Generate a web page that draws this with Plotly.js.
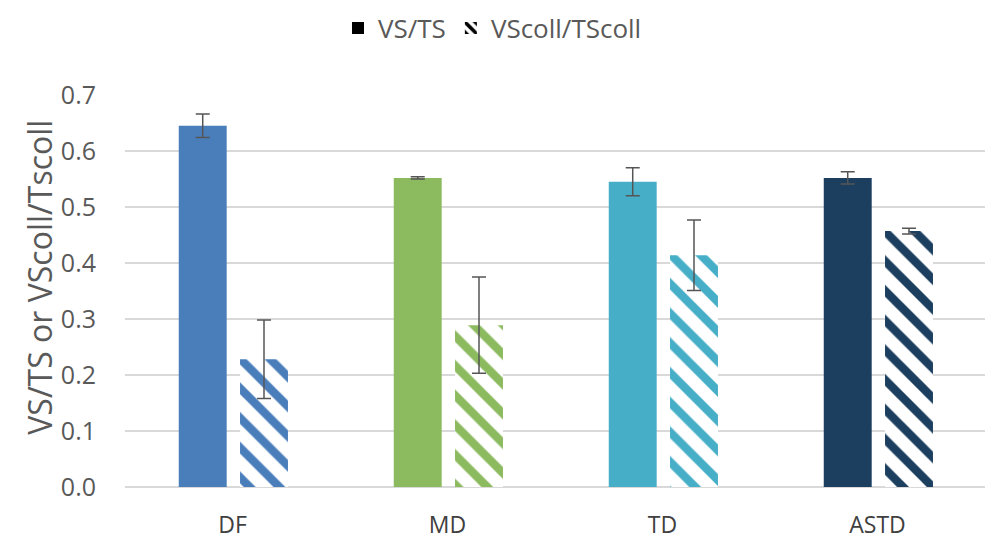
<!DOCTYPE html>
<html>
<head>
<meta charset="utf-8">
<script src="https://cdn.plot.ly/plotly-3.0.1.min.js"></script>
<style>html,body{margin:0;padding:0;background:#fff;}#chart{width:985px;height:540px;}</style>
</head>
<body>
<div id="chart"></div>
<script>
// Solids ratio per treatment, with the collected-fraction ratio beside it
const categories = ['DF', 'MD', 'TD', 'ASTD'];
const vsTs = [0.645, 0.552, 0.545, 0.552];
const vsTsErr = [0.021, 0.002, 0.025, 0.011];
const vsColl = [0.228, 0.289, 0.414, 0.457];
const vsCollErr = [0.070, 0.086, 0.063, 0.005];
const barColors = ['#4a7ebb', '#8cba5f', '#46aec7', '#1c3f60'];
const seriesNames = ['VS/TS', 'VScoll/TScoll'];
const yTitle = 'VS/TS or VScoll/Tscoll';

const errStyle = {type: 'data', visible: true, color: '#555555', thickness: 1.5, width: 7};

const traces = [
  {
    type: 'bar', x: categories, y: vsTs, name: seriesNames[0], showlegend: false,
    width: 0.223, offset: -0.25,
    marker: {color: barColors, line: {width: 0}},
    error_y: Object.assign({array: vsTsErr}, errStyle)
  },
  {
    type: 'bar', x: categories, y: vsColl, name: seriesNames[1], showlegend: false,
    width: 0.223, offset: 0.035,
    marker: {color: '#ffffff', line: {width: 0},
      pattern: {shape: '\\', fgcolor: barColors, bgcolor: '#ffffff', fgopacity: 1,
        size: 21, solidity: 0.4, fillmode: 'replace'}},
    error_y: Object.assign({array: vsCollErr}, errStyle)
  },
  // legend entries drawn in black
  {
    type: 'bar', x: [null], y: [null], name: seriesNames[0],
    marker: {color: '#000000'}
  },
  {
    type: 'bar', x: [null], y: [null], name: seriesNames[1],
    marker: {color: '#ffffff', pattern: {shape: '\\', fgcolor: '#000000', bgcolor: '#ffffff', fgopacity: 1,
      size: 9, solidity: 0.5, fillmode: 'replace'}}
  }
];

const layout = {
  width: 985, height: 540,
  margin: {l: 125, r: 0, t: 95, b: 53},
  paper_bgcolor: '#ffffff', plot_bgcolor: '#ffffff',
  font: {family: 'Open Sans, sans-serif', color: '#595959'},
  barmode: 'group',
  showlegend: true,
  legend: {orientation: 'h', xref: 'container', x: 0.5, xanchor: 'center',
    yref: 'container', y: 0.948, yanchor: 'middle',
    font: {size: 26, color: '#595959'}, itemwidth: 30, tracegroupgap: 0},
  xaxis: {
    type: 'category', showgrid: false, zeroline: false, showline: false,
    tickfont: {size: 23, color: '#404040'}, ticks: '', ticklabelstandoff: 22
  },
  yaxis: {
    range: [0, 0.7], dtick: 0.1, tickformat: '.1f',
    showgrid: true, gridcolor: '#d9d9d9', gridwidth: 1.5,
    zeroline: true, zerolinecolor: '#d9d9d9', zerolinewidth: 1.5, showline: false,
    tickfont: {size: 25, color: '#595959'}, ticks: '', ticklabelstandoff: 28
  },
  annotations: [{
    text: yTitle, textangle: -90, showarrow: false,
    xref: 'paper', x: -0.099, xanchor: 'center',
    yref: 'paper', y: 0.536, yanchor: 'middle',
    font: {size: 32, color: '#595959'}
  }]
};

Plotly.newPlot('chart', traces, layout, {displayModeBar: false, staticPlot: true});
</script>
</body>
</html>
